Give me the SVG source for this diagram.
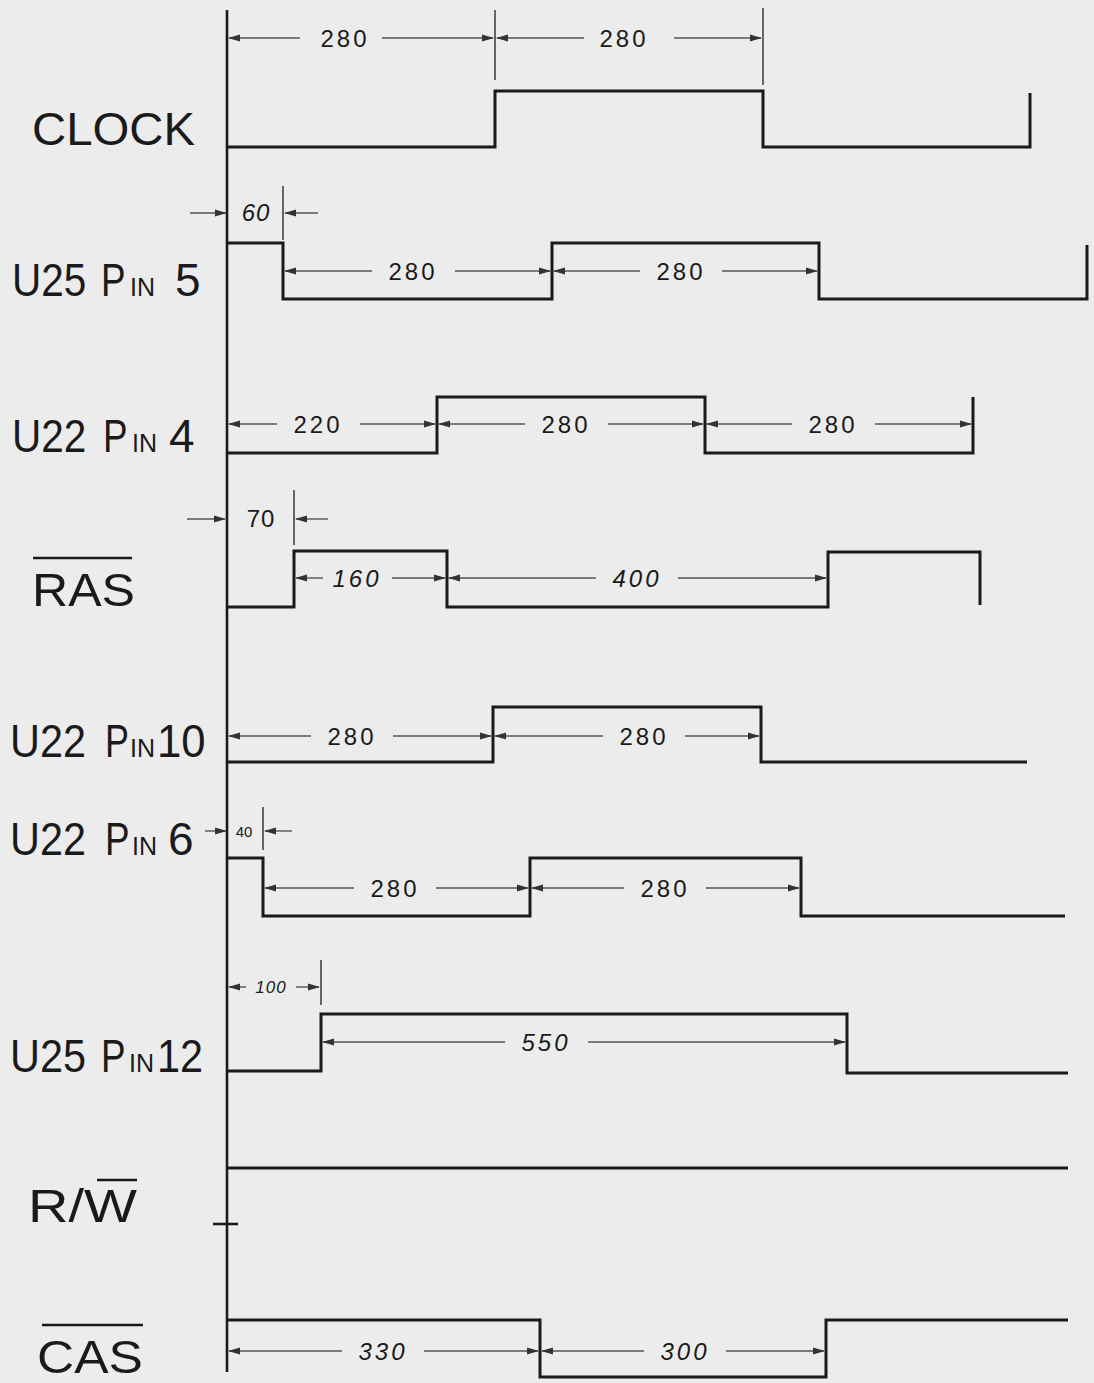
<svg xmlns="http://www.w3.org/2000/svg" width="1094" height="1383" viewBox="0 0 1094 1383">
<defs>
<marker id="ah" markerWidth="12" markerHeight="8" refX="11" refY="4" orient="auto" markerUnits="userSpaceOnUse">
<path d="M0,0.5 L12,4 L0,7.5 z" fill="#333"/>
</marker>
<style>
.sig{fill:none;stroke:#1a1a1a;stroke-width:3;stroke-linejoin:miter}
.ax{fill:none;stroke:#1a1a1a;stroke-width:2.6}
.dim{fill:none;stroke:#555;stroke-width:1.4;marker-end:url(#ah)}
.tick{fill:none;stroke:#444;stroke-width:1.6}
.ol{fill:none;stroke:#1a1a1a;stroke-width:2.4}
.lbl{font-family:"Liberation Sans",Arial,sans-serif;font-size:46px;fill:#1a1a1a}
.sm{font-family:"Liberation Sans",Arial,sans-serif;font-size:25px;fill:#1a1a1a}
.num{font-family:"Liberation Sans",Arial,sans-serif;font-size:24px;fill:#1a1a1a;text-anchor:middle;letter-spacing:3px}
.it{font-style:italic}
</style>
</defs>
<rect width="1094" height="1383" fill="#ececec"/>

<g id="axis">
<path class="ax" d="M227,10 V1372"/>
<path class="ax" d="M213,1224 H238"/>
</g>

<g id="labels">
<g id="lbl-clock"><text class="lbl" x="32" y="145" textLength="163" lengthAdjust="spacingAndGlyphs">CLOCK</text></g>
<g id="lbl-u25p5">
<text class="lbl" transform="translate(12,296) scale(0.88,1)">U25</text>
<text class="lbl" transform="translate(101,296) scale(0.8,1)">P</text>
<text class="sm" x="130" y="296">IN</text>
<text class="lbl" x="175" y="296">5</text>
</g>
<g id="lbl-u22p4">
<text class="lbl" transform="translate(12,452) scale(0.88,1)">U22</text>
<text class="lbl" transform="translate(103,452) scale(0.8,1)">P</text>
<text class="sm" x="132" y="452">IN</text>
<text class="lbl" x="169" y="452">4</text>
</g>
<g id="lbl-ras"><text class="lbl" x="32" y="606" textLength="103" lengthAdjust="spacingAndGlyphs">RAS</text><path class="ol" d="M33,558 H132"/></g>
<g id="lbl-u22p10">
<text class="lbl" transform="translate(10,757) scale(0.9,1)">U22</text>
<text class="lbl" transform="translate(105,757) scale(0.78,1)">P</text>
<text class="sm" x="130" y="757">IN</text>
<text class="lbl" transform="translate(157,757) scale(0.95,1)">10</text>
</g>
<g id="lbl-u22p6">
<text class="lbl" transform="translate(10,855) scale(0.9,1)">U22</text>
<text class="lbl" transform="translate(105,855) scale(0.8,1)">P</text>
<text class="sm" x="132" y="855">IN</text>
<text class="lbl" x="168" y="855">6</text>
</g>
<g id="lbl-u25p12">
<text class="lbl" transform="translate(10,1072) scale(0.9,1)">U25</text>
<text class="lbl" transform="translate(101,1072) scale(0.8,1)">P</text>
<text class="sm" x="129" y="1072">IN</text>
<text class="lbl" transform="translate(157,1072) scale(0.9,1)">12</text>
</g>
<g id="lbl-rw"><text class="lbl" x="28" y="1222" textLength="109" lengthAdjust="spacingAndGlyphs">R/W</text><path class="ol" d="M97,1180 H137"/></g>
<g id="lbl-cas"><text class="lbl" x="37" y="1373" textLength="106" lengthAdjust="spacingAndGlyphs">CAS</text><path class="ol" d="M42,1325 H143"/></g>
</g>

<g id="signals">
<path id="clock" class="sig" d="M227,147 H495 V91 H763 V147 H1030 V93"/>
<path id="u25p5" class="sig" d="M227,243 H283 V299 H552 V243 H819 V299 H1087 V245"/>
<path id="u22p4" class="sig" d="M227,453 H437 V397 H705 V453 H973 V397"/>
<path id="ras" class="sig" d="M227,607 H294 V551 H447 V607 H828 V552 H980 V605"/>
<path id="u22p10" class="sig" d="M227,762 H493 V707 H761 V762 H1027"/>
<path id="u22p6" class="sig" d="M227,858 H263 V916 H530 V858 H801 V916 H1065"/>
<path id="u25p12" class="sig" d="M227,1071 H321 V1014 H847 V1073 H1068"/>
<path id="rw" class="sig" d="M227,1168 H1068"/>
<path id="cas" class="sig" d="M227,1320 H540 V1377 H826 V1320 H1068"/>
</g>

<g id="connectors">
<!-- CLOCK -->
<path class="tick" d="M495,10 V80"/>
<path class="tick" d="M763,8 V85"/>
<path class="dim" d="M300,38 H229"/><path class="dim" d="M382,38 H493"/>
<path class="dim" d="M584,38 H497"/><path class="dim" d="M674,38 H761"/>
<!-- U25 Pin 5 -->
<path class="tick" d="M283,186 V240"/>
<path class="dim" d="M190,213 H226"/><path class="dim" d="M318,213 H285"/>
<path class="dim" d="M372,271 H285"/><path class="dim" d="M455,271 H550"/>
<path class="dim" d="M640,271 H554"/><path class="dim" d="M722,271 H817"/>
<!-- U22 Pin 4 -->
<path class="dim" d="M277,424 H229"/><path class="dim" d="M360,424 H435"/>
<path class="dim" d="M525,424 H439"/><path class="dim" d="M608,424 H703"/>
<path class="dim" d="M792,424 H707"/><path class="dim" d="M875,424 H971"/>
<!-- RAS -->
<path class="tick" d="M294,490 V545"/>
<path class="dim" d="M187,519 H225"/><path class="dim" d="M328,519 H296"/>
<path class="dim" d="M323,578 H296"/><path class="dim" d="M392,578 H445"/>
<path class="dim" d="M596,578 H449"/><path class="dim" d="M678,578 H826"/>
<!-- U22 Pin10 -->
<path class="dim" d="M311,736 H229"/><path class="dim" d="M393,736 H491"/>
<path class="dim" d="M603,736 H495"/><path class="dim" d="M685,736 H759"/>
<!-- U22 Pin 6 -->
<path class="tick" d="M263,807 V850"/>
<path class="dim" d="M205,831 H226"/><path class="dim" d="M292,831 H265"/>
<path class="dim" d="M354,888 H265"/><path class="dim" d="M436,888 H528"/>
<path class="dim" d="M624,888 H532"/><path class="dim" d="M706,888 H799"/>
<!-- U25 Pin12 -->
<path class="tick" d="M321,960 V1005"/>
<path class="dim" d="M246,987 H229"/><path class="dim" d="M296,987 H319"/>
<path class="dim" d="M505,1042 H323"/><path class="dim" d="M588,1042 H845"/>
<!-- CAS -->
<path class="dim" d="M342,1351 H229"/><path class="dim" d="M424,1351 H538"/>
<path class="dim" d="M644,1351 H542"/><path class="dim" d="M726,1351 H824"/>
</g>

<g id="dim-labels">
<text class="num" x="345" y="47">280</text>
<text class="num" x="624" y="47">280</text>
<text class="num it" x="256" y="221" style="letter-spacing:1px">60</text>
<text class="num" x="413" y="280">280</text>
<text class="num" x="681" y="280">280</text>
<text class="num" x="318" y="433">220</text>
<text class="num" x="566" y="433">280</text>
<text class="num" x="833" y="433">280</text>
<text class="num" x="261" y="527" style="letter-spacing:1px">70</text>
<text class="num it" x="357" y="587">160</text>
<text class="num it" x="637" y="587">400</text>
<text class="num" x="352" y="745">280</text>
<text class="num" x="644" y="745">280</text>
<text class="num" x="244" y="837" style="font-size:15px;letter-spacing:0">40</text>
<text class="num" x="395" y="897">280</text>
<text class="num" x="665" y="897">280</text>
<text class="num it" x="271" y="993" style="font-size:17px;letter-spacing:1px">100</text>
<text class="num it" x="546" y="1051">550</text>
<text class="num it" x="383" y="1360">330</text>
<text class="num it" x="685" y="1360">300</text>
</g>
</svg>
